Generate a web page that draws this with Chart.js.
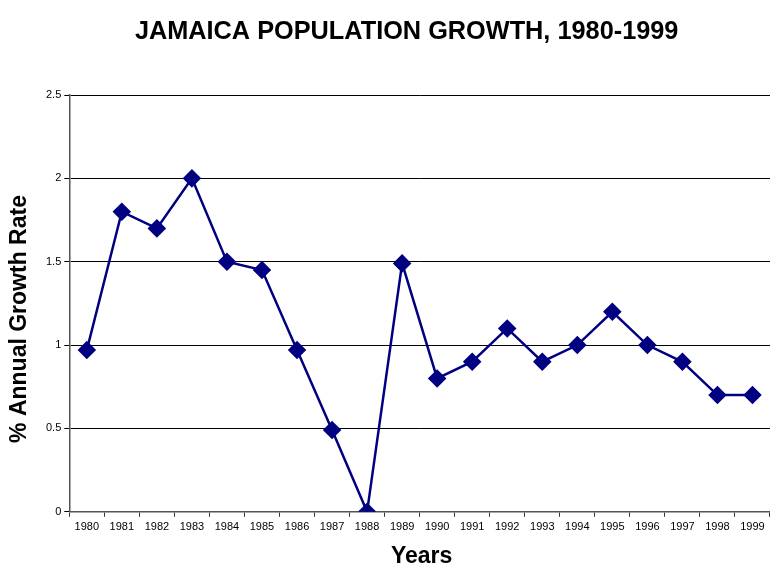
<!DOCTYPE html>
<html>
<head>
<meta charset="utf-8">
<script src="https://cdn.jsdelivr.net/npm/chart.js@4/dist/chart.umd.min.js"></script>
<style>
  html, body { margin: 0; padding: 0; background: #fff; }
  #wrap { width: 770px; height: 566px; }
</style>
</head>
<body>
<div id="wrap"><canvas id="chart"></canvas></div>
<script>
// Jamaica annual population growth, 1980-1999
const years = ['1980', '1981', '1982', '1983', '1984', '1985', '1986', '1987', '1988', '1989',
               '1990', '1991', '1992', '1993', '1994', '1995', '1996', '1997', '1998', '1999'];
const growthRate = [0.97, 1.8, 1.7, 2.0, 1.5, 1.45, 0.97, 0.49, 0.0, 1.49,
                    0.8, 0.9, 1.1, 0.9, 1.0, 1.2, 1.0, 0.9, 0.7, 0.7];
const yTicks = [0, 0.5, 1, 1.5, 2, 2.5];

const chartTitle = 'JAMAICA POPULATION GROWTH, 1980-1999';
const xTitle = 'Years';
const yTitle = '% Annual Growth Rate';
const FONT = '"Liberation Sans", Arial, Helvetica, sans-serif';

// main title and axis titles, placed by hand around the plot area
const titles = {
  id: 'titles',
  afterDraw(chart) {
    const { ctx, chartArea } = chart;
    const mid = (chartArea.left + chartArea.right) / 2;
    ctx.save();
    ctx.fillStyle = '#000';
    ctx.textAlign = 'center';
    ctx.textBaseline = 'middle';

    ctx.font = 'bold 25.3px ' + FONT;
    ctx.fillText(chartTitle, mid - 13, 32);

    ctx.font = 'bold 23px ' + FONT;
    ctx.fillText(xTitle, mid + 2, 557);

    ctx.translate(20, 319);
    ctx.rotate(-Math.PI / 2);
    ctx.fillText(yTitle, 0, 0);
    ctx.restore();
  }
};

const ctx = document.getElementById('chart').getContext('2d');
const chart = new Chart(ctx, {
  type: 'line',
  data: {
    labels: years,
    datasets: [{
      label: yTitle,
      data: growthRate,
      borderColor: '#000080',
      backgroundColor: '#000080',
      borderWidth: 2.5,
      pointStyle: 'rectRot',
      pointRadius: 7.5,
      pointHoverRadius: 7.5,
      tension: 0
    }]
  },
  options: {
    responsive: true,
    maintainAspectRatio: false,
    animation: false,
    layout: { autoPadding: false, padding: { top: 95, right: 0, left: 43, bottom: 28 } },
    plugins: {
      legend: { display: false },
      tooltip: { enabled: false }
    },
    scales: {
      x: {
        offset: true,
        grid: {
          offset: true,
          drawOnChartArea: false,
          drawTicks: true,
          tickLength: 5,
          color: '#333'
        },
        border: { color: '#555', width: 1.5 },
        ticks: {
          color: '#000',
          font: { family: FONT, size: 11 },
          maxRotation: 0,
          autoSkip: false,
          padding: 4
        }
      },
      y: {
        min: 0,
        max: 2.5,
        afterBuildTicks(axis) {
          axis.ticks = yTicks.map(v => ({ value: v }));
        },
        grid: {
          color: '#000',
          lineWidth: 1,
          drawTicks: true,
          tickLength: 5
        },
        border: { color: '#555', width: 1.5 },
        ticks: {
          color: '#000',
          font: { family: FONT, size: 11 },
          padding: 3,
          callback: v => String(v)
        }
      }
    }
  },
  plugins: [titles]
});
</script>
</body>
</html>
